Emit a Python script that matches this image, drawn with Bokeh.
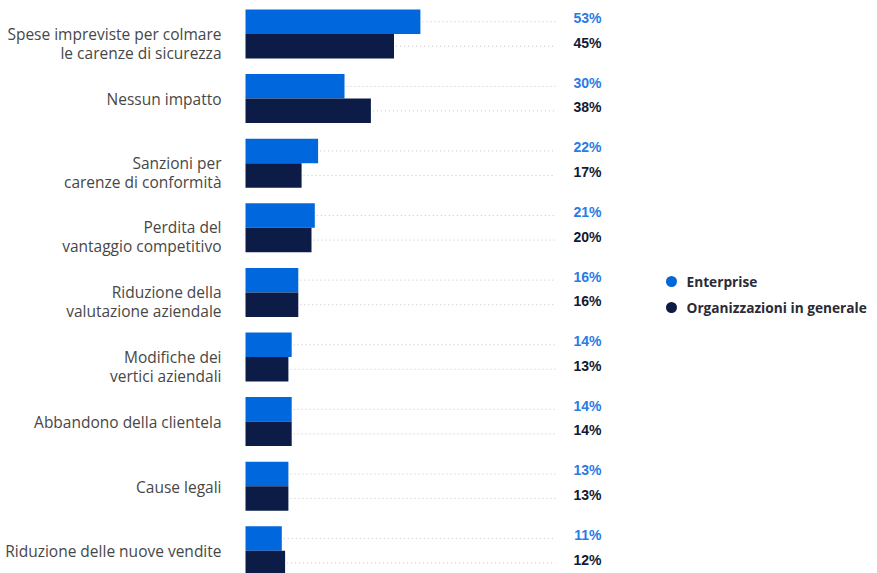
from bokeh.plotting import figure
from bokeh.models import Range1d, ColumnDataSource
from bokeh.core.properties import value
from bokeh.embed import file_html
from bokeh.resources import INLINE

# ---- data ----
categories = [
    "Spese impreviste per colmare\nle carenze di sicurezza",
    "Nessun impatto",
    "Sanzioni per\ncarenze di conformità",
    "Perdita del\nvantaggio competitivo",
    "Riduzione della\nvalutazione aziendale",
    "Modifiche dei\nvertici aziendali",
    "Abbandono della clientela",
    "Cause legali",
    "Riduzione delle nuove vendite",
]
series_names = ["Enterprise", "Organizzazioni in generale"]
enterprise = [53, 30, 22, 21, 16, 14, 14, 13, 11]
organizzazioni = [45, 38, 17, 20, 16, 13, 14, 13, 12]

# ---- layout constants (pixels) ----
W, H = 877, 573
S = 3.3          # px per percentage point
X0 = 245         # px of the zero line
ROW = 64.6       # px per category
Y0 = 33.5        # px of first category centre
BAR_PX = 24.5

def dx(px):
    return (px - X0) / S

def dy(py):
    return (py - Y0) / ROW

BAR_H = BAR_PX / ROW
C_ENT = "#0068dc"
C_ORG = "#0c1c47"
C_ENT_TXT = "#2a7be4"
C_ORG_TXT = "#0f1a33"
C_LBL = "#474747"

p = figure(width=W, height=H, output_backend="svg", toolbar_location=None,
           x_range=Range1d(dx(0), dx(W)), y_range=Range1d(dy(H), dy(0)),
           min_border=0)
p.axis.visible = False
p.grid.visible = False
p.outline_line_color = None
p.background_fill_color = "white"
p.border_fill_color = "white"

n = len(categories)
idx = list(range(n))
y_ent = [i - BAR_H / 2 for i in idx]
y_org = [i + BAR_H / 2 for i in idx]

src_ent = ColumnDataSource(dict(y=y_ent, v=enterprise,
                                x0=[v + 2 / S for v in enterprise],
                                x1=[dx(555)] * n,
                                lbl=[f"{v}%" for v in enterprise]))
src_org = ColumnDataSource(dict(y=y_org, v=organizzazioni,
                                x0=[v + 2 / S for v in organizzazioni],
                                x1=[dx(555)] * n,
                                lbl=[f"{v}%" for v in organizzazioni]))

for src, col, tcol in ((src_ent, C_ENT, C_ENT_TXT), (src_org, C_ORG, C_ORG_TXT)):
    p.segment(x0="x0", x1="x1", y0="y", y1="y", source=src,
              line_color="#c4c4c4", line_width=1, line_dash="1 3")
    p.hbar(y="y", left=0, right="v", height=BAR_H, source=src,
           fill_color=col, line_color=None)
    p.text(x=dx(601), y="y", text="lbl", source=src,
           text_align="right", text_baseline="middle", y_offset=-3.5,
           text_font=value("Liberation Sans"), text_font_style="bold",
           text_font_size="14px", text_color=tcol)

# category labels
lx, ly, lt = [], [], []
for i, c in enumerate(categories):
    parts = c.split("\n")
    if len(parts) == 1:
        lx.append(dx(221)); ly.append(i + 0.5 / ROW); lt.append(parts[0])
    else:
        lx.append(dx(221)); ly.append(i - 0.5 / ROW); lt.append(parts[0])
        lx.append(dx(221)); ly.append(i + 18.5 / ROW); lt.append(parts[1])
p.text(x=lx, y=ly, text=lt, text_align="right", text_baseline="middle",
       text_font=value("Open Sans"), text_font_size="15.5px", text_color=C_LBL)

# legend
leg_y = [dy(281), dy(307)]
p.scatter(x=[dx(671)] * 2, y=leg_y, size=11, marker="circle",
          fill_color=[C_ENT, C_ORG], line_color=None)
p.text(x=[dx(686)] * 2, y=leg_y, text=series_names, text_align="left",
       text_baseline="middle", text_font=value("Open Sans"),
       text_font_style="bold", text_font_size="13.7px", text_color="#2b2b36")

open("out.html", "w").write(file_html(p, INLINE))
